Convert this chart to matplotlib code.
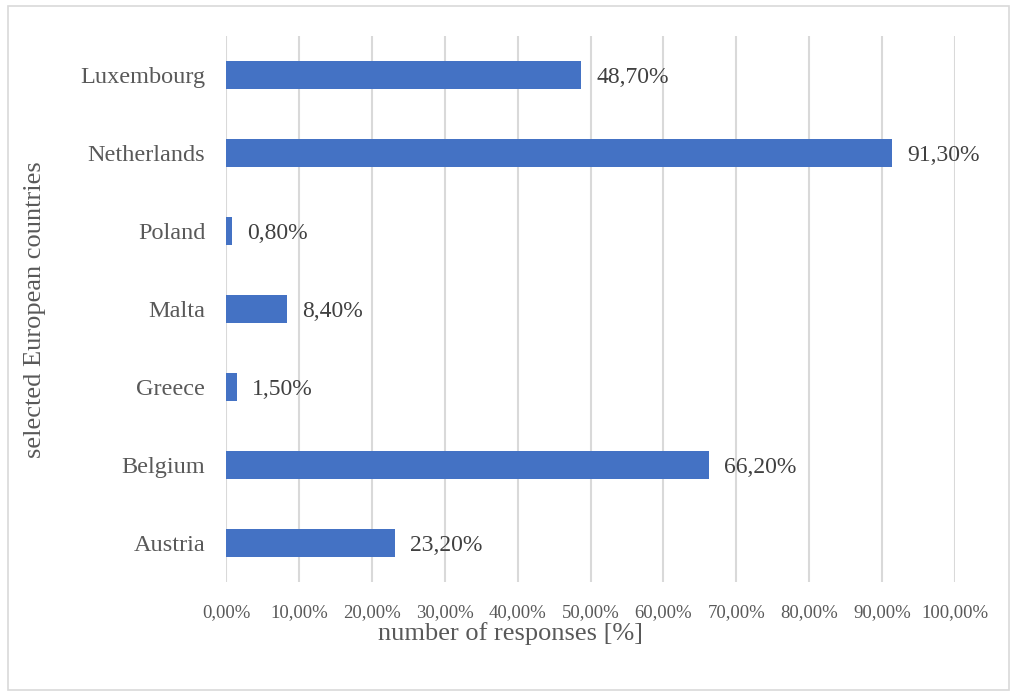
import matplotlib.pyplot as plt
from matplotlib.patches import Rectangle

# Data
countries = ['Austria', 'Belgium', 'Greece', 'Malta', 'Poland', 'Netherlands', 'Luxembourg']
responses = [23.2, 66.2, 1.5, 8.4, 0.8, 91.3, 48.7]
ticks = [0, 10, 20, 30, 40, 50, 60, 70, 80, 90, 100]

bar_color = '#4472C4'
grid_color = '#D9D9D9'
text_color = '#595959'
serif = ['Liberation Serif', 'DejaVu Serif']

plt.rcParams['font.family'] = serif

fig = plt.figure(figsize=(10.14, 6.92), dpi=100)
ax = fig.add_axes([226 / 1014, 1 - 582 / 692, 729 / 1014, 546 / 692])

y = list(range(len(countries)))
ax.barh(y, responses, height=0.36, color=bar_color, zorder=3)

for yi, v in zip(y, responses):
    ax.annotate(f'{v:.2f}%'.replace('.', ','), xy=(v, yi), xytext=(11, 0),
                textcoords='offset points', va='center_baseline', ha='left',
                fontsize=17, color='#404040')

ax.set_xlim(0, 100)
ax.set_ylim(-0.5, len(countries) - 0.5)
ax.set_xticks(ticks)
ax.set_xticklabels([f'{t:.2f}%'.replace('.', ',') for t in ticks],
                   fontsize=13.5, color=text_color)
ax.set_yticks(y)
ax.set_yticklabels(countries, fontsize=17.5, color=text_color)
ax.tick_params(axis='both', length=0)
ax.tick_params(axis='x', pad=16)
ax.tick_params(axis='y', pad=15)

ax.grid(axis='x', color=grid_color, linewidth=1.5, zorder=0)
for s in ax.spines.values():
    s.set_visible(False)

fig.text(511 / 1014, 1 - 634 / 692, 'number of responses [%]', ha='center', va='center',
         fontsize=19, color=text_color)
fig.text(35 / 1014, 1 - 310 / 692, 'selected European countries', ha='center', va='center',
         rotation=90, fontsize=19, color=text_color)

# light chart border
fig.patches.append(Rectangle((8 / 1014, 2 / 692), 1001 / 1014, 684 / 692,
                             transform=fig.transFigure, fill=False,
                             edgecolor='#D9D9D9', linewidth=1.2))

fig.savefig('out.png', dpi=100)
